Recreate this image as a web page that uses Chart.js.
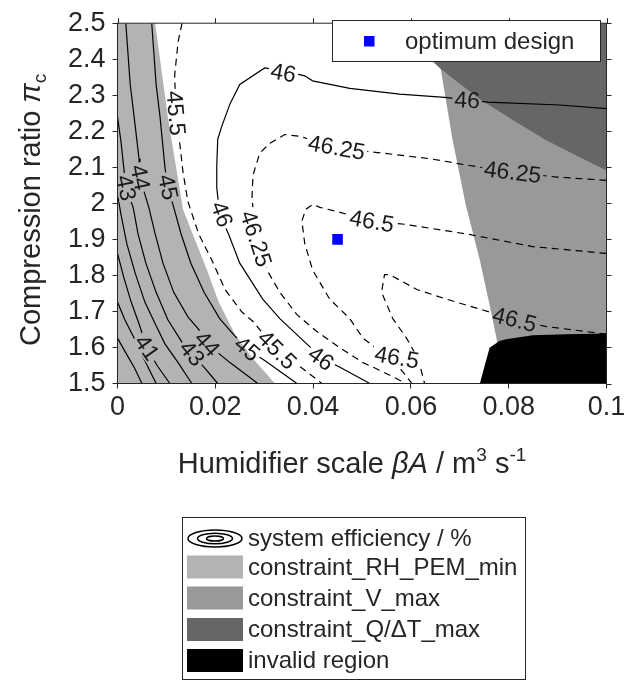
<!DOCTYPE html>
<html><head><meta charset="utf-8">
<script src="https://cdn.jsdelivr.net/npm/chart.js@4/dist/chart.umd.min.js"></script>
<style>
html,body{margin:0;padding:0;background:#fff;}
canvas{display:block;}
</style></head>
<body><canvas id="c" width="637" height="682"></canvas>
<script>
// ---------------- data ----------------
const xTicks = [0, 0.02, 0.04, 0.06, 0.08, 0.1];
const xTickLabels = ['0', '0.02', '0.04', '0.06', '0.08', '0.1'];
const yTicks = [1.5, 1.6, 1.7, 1.8, 1.9, 2.0, 2.1, 2.2, 2.3, 2.4, 2.5];
const yTickLabels = ['1.5', '1.6', '1.7', '1.8', '1.9', '2', '2.1', '2.2', '2.3', '2.4', '2.5'];

// contour lines of system efficiency, [humidifier scale, compression ratio]
const level39 = [[0,1.626],[0.0017,1.585],[0.0034,1.545],[0.005,1.5]];
const level40 = [[0,1.726],[0.0015,1.677],[0.0034,1.626],[0.0054,1.569],[0.0079,1.5]];
const level41 = [[0,1.861],[0.0013,1.794],[0.0028,1.726],[0.0044,1.666],[0.006,1.599],[0.0081,1.55],[0.0107,1.5]];
const level42 = [[0,2.024],[0.0007,1.97],[0.0019,1.888],[0.0036,1.807],[0.0056,1.726],[0.0077,1.666],[0.0097,1.61],[0.0124,1.558],[0.0152,1.5]];
const level43 = [[0,2.24],[0.0007,2.173],[0.0013,2.097],[0.0017,2.043],[0.0032,1.989],[0.0042,1.915],[0.0058,1.834],[0.0079,1.753],[0.0103,1.677],[0.0134,1.61],[0.0152,1.583],[0.0179,1.542],[0.0205,1.5]];
const level44 = [[0.0017,2.5],[0.0026,2.33],[0.0034,2.24],[0.0044,2.124],[0.0046,2.072],[0.0058,2.016],[0.0064,1.989],[0.0077,1.915],[0.0093,1.834],[0.0115,1.753],[0.0144,1.685],[0.0166,1.65],[0.0183,1.61],[0.023,1.558],[0.0287,1.5]];
const level45 = [[0.007,2.5],[0.0079,2.33],[0.0087,2.24],[0.0097,2.1],[0.0103,2.045],[0.0115,1.989],[0.013,1.915],[0.015,1.834],[0.0177,1.753],[0.0209,1.68],[0.0242,1.629],[0.0265,1.596],[0.0301,1.564],[0.0367,1.5]];
const level45_5 = [[0.0132,2.5],[0.0124,2.449],[0.0117,2.357],[0.0119,2.25],[0.0128,2.159],[0.0134,2.086],[0.0144,2.005],[0.0166,1.915],[0.0193,1.842],[0.022,1.761],[0.0254,1.699],[0.0277,1.672],[0.0326,1.593],[0.0375,1.545],[0.0418,1.5]];
const level46 = [[0.1,2.263],[0.0904,2.273],[0.0757,2.281],[0.0669,2.294],[0.0577,2.303],[0.0475,2.319],[0.0399,2.34],[0.0383,2.354],[0.0342,2.367],[0.0301,2.376],[0.025,2.33],[0.023,2.276],[0.0213,2.213],[0.0205,2.178],[0.0203,2.105],[0.0203,2.043],[0.0209,1.97],[0.0227,1.915],[0.025,1.834],[0.0297,1.734],[0.0332,1.68],[0.0387,1.61],[0.042,1.569],[0.0455,1.545],[0.0516,1.5]];
const level46_25 = [[0.1,2.064],[0.0898,2.073],[0.0808,2.086],[0.072,2.105],[0.0638,2.124],[0.0532,2.141],[0.0448,2.154],[0.0373,2.186],[0.0342,2.191],[0.0312,2.167],[0.0291,2.14],[0.0277,2.078],[0.0275,2.016],[0.0283,1.902],[0.0309,1.807],[0.0332,1.753],[0.0367,1.691],[0.0407,1.645],[0.0455,1.599],[0.0502,1.558],[0.0536,1.537],[0.0583,1.505],[0.0589,1.5]];
const level46_5a = [[0.1,1.861],[0.0849,1.88],[0.0714,1.915],[0.0587,1.942],[0.052,1.95],[0.0455,1.975],[0.0414,1.989],[0.0399,1.997],[0.0385,1.983],[0.0377,1.951],[0.0383,1.888],[0.0399,1.815],[0.0434,1.734],[0.0475,1.68],[0.0502,1.626],[0.0536,1.591],[0.0573,1.55],[0.0602,1.5]];
const level46_5b = [[0.1,1.637],[0.0877,1.658],[0.0812,1.677],[0.0747,1.704],[0.0673,1.734],[0.0612,1.761],[0.0557,1.802],[0.0546,1.802],[0.054,1.753],[0.0563,1.68],[0.0591,1.626],[0.0608,1.585],[0.062,1.542],[0.0628,1.5]];

// inline contour labels: text, position, angle along the line (deg)
const contourLabels = [
  {t:'46', x:0.0715, y:2.286, a:3},
  {t:'46', x:0.0339, y:2.362, a:10},
  {t:'46', x:0.0213, y:1.97, a:70},
  {t:'46', x:0.0416, y:1.569, a:36},
  {t:'46.25', x:0.0808, y:2.086, a:7},
  {t:'46.25', x:0.0448, y:2.154, a:10},
  {t:'46.25', x:0.0283, y:1.902, a:72},
  {t:'46.5', x:0.052, y:1.95, a:10},
  {t:'46.5', x:0.0812, y:1.677, a:14},
  {t:'46.5', x:0.0571, y:1.572, a:10},
  {t:'45.5', x:0.0119, y:2.25, a:85},
  {t:'45.5', x:0.0326, y:1.593, a:45},
  {t:'45', x:0.0103, y:2.045, a:78},
  {t:'45', x:0.0265, y:1.596, a:40},
  {t:'44', x:0.0046, y:2.072, a:78},
  {t:'44', x:0.0183, y:1.61, a:48},
  {t:'43', x:0.0017, y:2.043, a:78},
  {t:'43', x:0.0152, y:1.583, a:50},
  {t:'41', x:0.006, y:1.599, a:55}
];

// constraint regions (polygon outlines)
const rhPemMinRegion = [[0,2.5],[0.0077,2.5],[0.0103,2.24],[0.0134,1.983],[0.0156,1.907],[0.0183,1.815],[0.0207,1.726],[0.024,1.637],[0.0275,1.572],[0.0322,1.5],[0,1.5]];
const vMaxRegion = [[0.0642,2.5],[0.1,2.5],[0.1,1.5],[0.0757,1.5],[0.0777,1.612],[0.0767,1.68],[0.0741,1.842],[0.0712,1.997],[0.0685,2.178],[0.0661,2.373],[0.0642,2.5]];
const qdtMaxRegion = [[0.0563,2.5],[0.1,2.5],[0.1,2.091],[0.0935,2.135],[0.0873,2.178],[0.0808,2.232],[0.0741,2.289],[0.0661,2.373],[0.061,2.438],[0.0563,2.5]];
const invalidRegion = [[0.0741,1.5],[0.0751,1.55],[0.0761,1.599],[0.0781,1.618],[0.0795,1.623],[0.0849,1.634],[0.0918,1.637],[0.1,1.639],[0.1,1.5]];

const optimumDesign = [[0.045, 1.9]];

// ---------------- chart ----------------
const FONT = '"Liberation Sans", Arial, Helvetica, sans-serif';
const TXT = '#262626';
const LABEL_FONT = '23px ' + FONT;
Chart.defaults.font.family = FONT;

const pts = a => a.map(([x, y]) => ({x, y}));

function region(arr, color, order) {
  return {type:'line', data: pts(arr), fill:'shape', backgroundColor: color,
    borderColor:'rgba(0,0,0,0)', borderWidth:0, pointRadius:0, tension:0, order};
}
function contour(arr, dashed) {
  return {type:'line', data: pts(arr), fill:false, borderColor:'#000', borderWidth:1.2,
    borderDash: dashed ? [7,5] : [], pointRadius:0, tension:0, order:2, isContour:true};
}

const datasets = [
  {type:'scatter', data: pts(optimumDesign), pointStyle:'rect', pointRadius:7.5,
   backgroundColor:'#0000ff', borderWidth:0, borderColor:'#0000ff', order:0},
  region(invalidRegion, '#000000', 1),
  contour(level39), contour(level40), contour(level41), contour(level42),
  contour(level43), contour(level44), contour(level45), contour(level45_5, true),
  contour(level46), contour(level46_25, true), contour(level46_5a, true), contour(level46_5b, true),
  region(qdtMaxRegion, '#666666', 3),
  region(vMaxRegion, '#999999', 4),
  region(rhPemMinRegion, '#b3b3b3', 5)
];

function labelPolys(chart) {
  const xs = chart.scales.x, ys = chart.scales.y, ctx = chart.ctx;
  ctx.save(); ctx.font = LABEL_FONT;
  const out = contourLabels.map(l => {
    const cx = xs.getPixelForValue(l.x), cy = ys.getPixelForValue(l.y);
    const w = ctx.measureText(l.t).width / 2 + 2, h = 9;
    const a = l.a * Math.PI / 180, c = Math.cos(a), s = Math.sin(a);
    return [[-w,-h],[w,-h],[w,h],[-w,h]].map(([u,v]) => [cx + u*c - v*s, cy + u*s + v*c]);
  });
  ctx.restore();
  return out;
}

function drawRich(ctx, segs, x, y, size, align) {
  const fontFor = s => (s.i ? 'italic ' : '') + Math.round((s.sup || s.sub) ? size * 0.66 : size) + 'px ' + FONT;
  let total = 0;
  segs.forEach(s => { ctx.font = fontFor(s); s.w = ctx.measureText(s.t).width; total += s.w; });
  let cx = align === 'center' ? x - total / 2 : x;
  ctx.textAlign = 'left'; ctx.textBaseline = 'alphabetic';
  segs.forEach(s => {
    ctx.font = fontFor(s);
    const dy = s.sup ? -0.4 * size : (s.sub ? 0.22 * size : 0);
    ctx.fillText(s.t, cx, y + dy);
    cx += s.w;
  });
}

const decorPlugin = {
  id: 'decor',
  beforeDatasetDraw(chart, args) {
    const ds = chart.data.datasets[args.index];
    if (!ds.isContour) return;
    const ctx = chart.ctx;
    ctx.save();
    ctx.beginPath();
    ctx.rect(0, 0, chart.width, chart.height);
    labelPolys(chart).forEach(p => {
      ctx.moveTo(p[0][0], p[0][1]);
      for (let k = 1; k < 4; k++) ctx.lineTo(p[k][0], p[k][1]);
      ctx.closePath();
    });
    ctx.clip('evenodd');
  },
  afterDatasetDraw(chart, args) {
    const ds = chart.data.datasets[args.index];
    if (ds.isContour) chart.ctx.restore();
  },
  afterDatasetsDraw(chart) {
    const ctx = chart.ctx, xs = chart.scales.x, ys = chart.scales.y, A = chart.chartArea;
    // contour labels
    ctx.save();
    ctx.font = LABEL_FONT; ctx.fillStyle = '#1a1a1a';
    ctx.textAlign = 'center'; ctx.textBaseline = 'middle';
    contourLabels.forEach(l => {
      ctx.save();
      ctx.translate(xs.getPixelForValue(l.x), ys.getPixelForValue(l.y));
      ctx.rotate(l.a * Math.PI / 180);
      ctx.fillText(l.t, 0, 1);
      ctx.restore();
    });
    ctx.restore();
    // frame and outer ticks on top / right
    ctx.save();
    ctx.strokeStyle = TXT; ctx.lineWidth = 1;
    ctx.strokeRect(A.left, A.top, A.right - A.left, A.bottom - A.top);
    ctx.beginPath();
    xTicks.forEach(v => { const p = Math.round(xs.getPixelForValue(v)) + 0.5; ctx.moveTo(p, A.top); ctx.lineTo(p, A.top - 5); });
    yTicks.forEach(v => { const p = Math.round(ys.getPixelForValue(v)) + 0.5; ctx.moveTo(A.right, p); ctx.lineTo(A.right + 5, p); });
    ctx.stroke();
    ctx.restore();
  },
  afterDraw(chart) {
    const ctx = chart.ctx;
    ctx.save();
    ctx.fillStyle = TXT;
    // axis titles
    drawRich(ctx, [{t:'Humidifier scale '},{t:'βA', i:true},{t:' / m'},{t:'3', sup:true},{t:' s'},{t:'-1', sup:true}], 352, 473, 29, 'center');
    ctx.save();
    ctx.translate(40, 346);
    ctx.rotate(-Math.PI / 2);
    drawRich(ctx, [{t:'Compression ratio '},{t:'π', i:true},{t:'c', sub:true}], 0, 0, 29, 'left');
    ctx.restore();

    // legend inside plot
    ctx.fillStyle = '#fff';
    ctx.fillRect(332.5, 20.5, 268, 41);
    ctx.strokeStyle = TXT; ctx.lineWidth = 1;
    ctx.strokeRect(332.5, 20.5, 268, 41);
    ctx.fillStyle = '#0000ff';
    ctx.fillRect(364, 36, 10.5, 10.5);
    ctx.fillStyle = TXT;
    ctx.font = '24px ' + FONT; ctx.textAlign = 'left'; ctx.textBaseline = 'middle';
    ctx.fillText('optimum design', 405, 42);

    // legend below plot
    ctx.fillStyle = '#fff';
    ctx.fillRect(182.5, 517.5, 343, 162);
    ctx.strokeRect(182.5, 517.5, 343, 162);
    ctx.strokeStyle = '#000'; ctx.lineWidth = 1.5;
    [[27, 8.5], [17.5, 5.3], [8.5, 2.6]].forEach(([rx, ry]) => {
      ctx.beginPath(); ctx.ellipse(215, 538.5, rx, ry, 0, 0, Math.PI * 2); ctx.stroke();
    });
    const rows = [
      ['constraint_RH_PEM_min', '#b3b3b3', 567],
      ['constraint_V_max', '#999999', 598],
      ['constraint_Q/ΔT_max', '#666666', 629.5],
      ['invalid region', '#000000', 660.5]
    ];
    rows.forEach(([t, c, y]) => {
      ctx.fillStyle = c; ctx.fillRect(187, y - 11.5, 56, 23);
    });
    ctx.fillStyle = TXT;
    ctx.font = '24px ' + FONT; ctx.textAlign = 'left'; ctx.textBaseline = 'middle';
    ctx.fillText('system efficiency / %', 248, 539);
    rows.forEach(([t, c, y]) => ctx.fillText(t, 248, y + 1));
    ctx.restore();
  }
};

new Chart(document.getElementById('c'), {
  type: 'line',
  data: { datasets },
  options: {
    responsive: false, animation: false, devicePixelRatio: 1, events: [],
    layout: { padding: { left: 0, right: 30.5, top: 13.5, bottom: 198.5 } },
    plugins: { legend: { display: false }, tooltip: { enabled: false } },
    scales: {
      x: {
        type: 'linear', position: 'bottom', min: 0, max: 0.1,
        afterBuildTicks: s => { s.ticks = xTicks.map(v => ({value: v})); },
        afterFit: s => { s.height = 100; },
        ticks: {
          autoSkip: false, maxRotation: 0, padding: 3, color: TXT, font: { size: 27 },
          callback: v => xTickLabels[xTicks.findIndex(t => Math.abs(t - v) < 1e-9)]
        },
        grid: { drawOnChartArea: false, drawTicks: true, tickLength: 5, color: TXT },
        border: { display: true, color: TXT }
      },
      y: {
        type: 'linear', position: 'left', min: 1.5, max: 2.5,
        afterBuildTicks: s => { s.ticks = yTicks.map(v => ({value: v})); },
        afterFit: s => { s.width = 117.5; },
        ticks: {
          autoSkip: false, padding: 7, color: TXT, font: { size: 27 },
          callback: v => yTickLabels[yTicks.findIndex(t => Math.abs(t - v) < 1e-9)]
        },
        grid: { drawOnChartArea: false, drawTicks: true, tickLength: 5, color: TXT },
        border: { display: true, color: TXT }
      }
    }
  },
  plugins: [decorPlugin]
});
</script>
</body></html>
